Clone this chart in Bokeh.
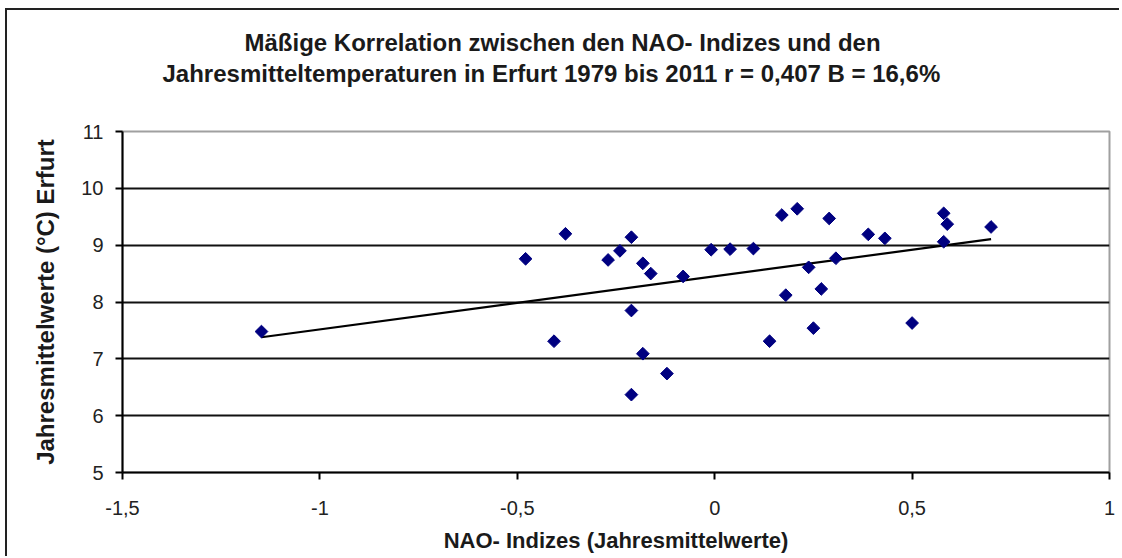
import numpy as np
from bokeh.plotting import figure
from bokeh.models import Range1d, FixedTicker, Title
from bokeh.embed import file_html
from bokeh.resources import INLINE

# ---- data ----
nao = [-1.148, -0.479, -0.407, -0.378, -0.270, -0.240, -0.211, -0.211, -0.211, -0.182,
       -0.182, -0.162, -0.121, -0.080, -0.009, 0.039, 0.098, 0.139, 0.170, 0.180,
       0.209, 0.238, 0.250, 0.270, 0.290, 0.307, 0.389, 0.431, 0.500, 0.580,
       0.589, 0.580, 0.700]
temp = [7.48, 8.76, 7.31, 9.20, 8.74, 8.90, 9.14, 7.85, 6.37, 8.68,
        7.09, 8.50, 6.74, 8.45, 8.92, 8.93, 8.94, 7.31, 9.53, 8.12,
        9.64, 8.61, 7.54, 8.23, 9.47, 8.77, 9.19, 9.12, 7.63, 9.56,
        9.37, 9.06, 9.32]

x_ticks = [-1.5, -1, -0.5, 0, 0.5, 1]
x_tick_labels = ["-1,5", "-1", "-0,5", "0", "0,5", "1"]
y_ticks = [5, 6, 7, 8, 9, 10, 11]
y_tick_labels = ["5", "6", "7", "8", "9", "10", "11"]

title_line1 = "Mäßige Korrelation zwischen den NAO- Indizes und den"
title_line2 = "Jahresmitteltemperaturen in Erfurt 1979 bis 2011 r = 0,407 B = 16,6%"
x_label = "NAO- Indizes (Jahresmittelwerte)"
y_label = "Jahresmittelwerte (°C) Erfurt"

FONT = "Liberation Sans"

p = figure(width=1114, height=548, output_backend="svg", toolbar_location=None,
           x_range=Range1d(-1.5, 1), y_range=Range1d(5, 11),
           min_border_left=115, min_border_right=12, min_border_top=121, min_border_bottom=86)
p.styles = {"margin-left": "5px", "margin-top": "8px",
            "border-left": "2px solid #222", "border-top": "2px solid #222"}

# spacer between frame and title, then the two title lines (nearest first)
p.add_layout(Title(text=" ", standoff=42, text_font_size="1px"), "above")
for txt, so, off in [(title_line2, 0, 40), (title_line1, 3, 122)]:
    t = Title(text=txt, align="left", offset=off, text_font=FONT, text_font_size="24px",
              text_font_style="bold", text_color="#1a1a1a", standoff=so)
    p.add_layout(t, "above")

# trend line computed from the data
k, d = np.polyfit(nao, temp, 1)
xs = [min(nao), max(nao)]
p.line(xs, [k * v + d for v in xs], line_color="black", line_width=2.2)

p.scatter(nao, temp, marker="square", angle=np.pi / 4, size=9,
          fill_color="#000080", line_color="#000080")

# axes
p.xaxis.ticker = FixedTicker(ticks=x_ticks)
p.xaxis.major_label_overrides = dict(zip(x_ticks, x_tick_labels))
p.yaxis.ticker = FixedTicker(ticks=y_ticks)
p.yaxis.major_label_overrides = dict(zip(y_ticks, y_tick_labels))

for ax in (p.xaxis, p.yaxis):
    ax.axis_line_color = "black"
    ax.axis_line_width = 2
    ax.major_tick_line_color = "black"
    ax.major_tick_line_width = 2
    ax.major_tick_out = 7
    ax.major_tick_in = 0
    ax.minor_tick_line_color = None
    ax.major_label_text_font = FONT
    ax.major_label_text_font_size = "20px"
    ax.major_label_text_color = "#222"
    ax.axis_label_text_font = FONT
    ax.axis_label_text_font_style = "bold"
    ax.axis_label_text_color = "#1a1a1a"

p.xaxis.axis_label = x_label
p.xaxis.axis_label_text_font_size = "22px"
p.xaxis.major_label_standoff = 21
p.xaxis.axis_label_standoff = 10

p.yaxis.axis_label = y_label
p.yaxis.axis_label_text_font_size = "24px"
p.yaxis.major_label_standoff = 12
p.yaxis.axis_label_standoff = 19

p.xgrid.grid_line_color = None
p.ygrid.ticker = FixedTicker(ticks=y_ticks[:-1])
p.ygrid.grid_line_color = "#111"
p.ygrid.grid_line_width = 2

p.outline_line_color = "#a0a0a0"
p.outline_line_width = 2
p.background_fill_color = "white"
p.border_fill_color = "white"

open("out.html", "w").write(file_html(p, INLINE))
